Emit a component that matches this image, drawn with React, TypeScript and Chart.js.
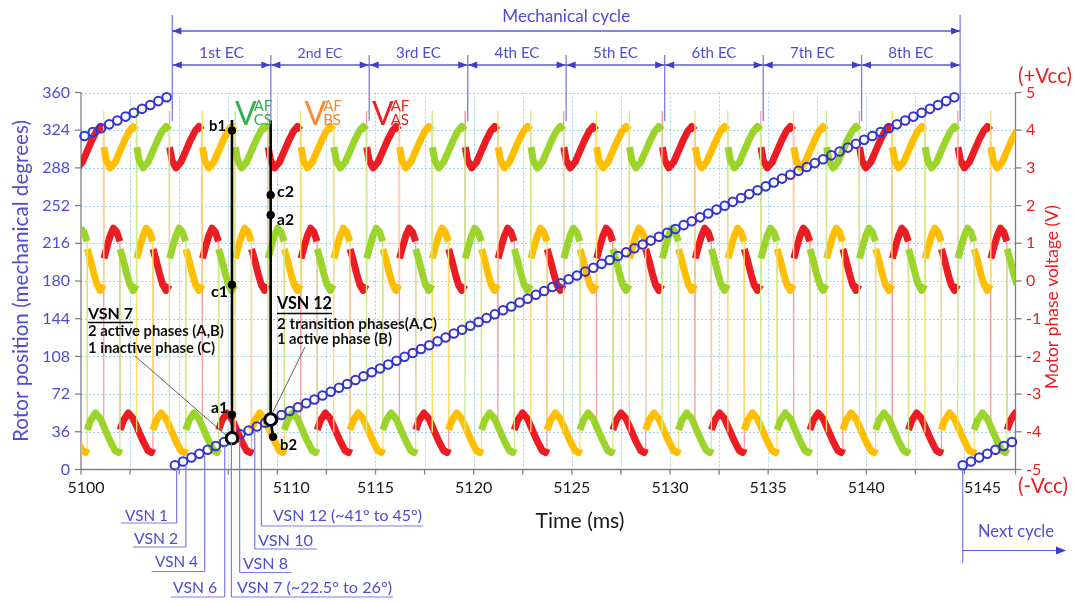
import React, { useEffect, useRef } from 'react';
import { Chart, registerables } from 'chart.js';

Chart.register(...registerables);

// ================= DATA =================
// time axis (ms)
const timeTicks = [5100, 5102.5, 5105, 5107.5, 5110, 5112.5, 5115, 5117.5, 5120, 5122.5, 5125, 5127.5, 5130, 5132.5, 5135, 5137.5, 5140, 5142.5, 5145];
const timeTickLabels = ['5100', '', '', '', '5110', '', '5115', '', '5120', '', '5125', '', '5130', '', '5135', '', '5140', '', '5145'];
const angleTicks = [0, 36, 72, 108, 144, 180, 216, 252, 288, 324, 360];
const voltTicks = [-5, -4, -3, -2, -1, 0, 1, 2, 3, 4, 5];

// rotor position samples (one circle per virtual sensor number)
const rotorTimes = [
  5100.18, 5100.60, 5101.02, 5101.44, 5101.85, 5102.27, 5102.69, 5103.11, 5103.53, 5103.94, 5104.36,
  5104.78, 5105.20, 5105.62, 5106.03, 5106.45, 5106.87, 5107.29, 5107.71, 5108.12, 5108.54,
  5108.96, 5109.38, 5109.80, 5110.21, 5110.63, 5111.05, 5111.47, 5111.89, 5112.30, 5112.72,
  5113.14, 5113.56, 5113.98, 5114.39, 5114.81, 5115.23, 5115.65, 5116.07, 5116.48, 5116.90,
  5117.32, 5117.74, 5118.16, 5118.57, 5118.99, 5119.41, 5119.83, 5120.25, 5120.66, 5121.08,
  5121.50, 5121.92, 5122.34, 5122.75, 5123.17, 5123.59, 5124.01, 5124.43, 5124.84, 5125.26,
  5125.68, 5126.10, 5126.52, 5126.93, 5127.35, 5127.77, 5128.19, 5128.61, 5129.02, 5129.44,
  5129.86, 5130.28, 5130.70, 5131.11, 5131.53, 5131.95, 5132.37, 5132.79, 5133.20, 5133.62,
  5134.04, 5134.46, 5134.88, 5135.29, 5135.71, 5136.13, 5136.55, 5136.97, 5137.38, 5137.80,
  5138.22, 5138.64, 5139.06, 5139.47, 5139.89, 5140.31, 5140.73, 5141.15, 5141.56, 5141.98,
  5142.40, 5142.82, 5143.24, 5143.65, 5144.07, 5144.49,
  5144.91, 5145.33, 5145.75, 5146.16, 5146.58, 5147.00, 5147.42,
];
const rotorAngles = [
  318.5, 322.2, 325.9, 329.6, 333.3, 337, 340.7, 344.4, 348.1, 351.8, 355.5,
  4, 7.7, 11.4, 15.1, 18.8, 22.5, 26.2, 29.9, 33.6, 37.3,
  41, 44.7, 48.4, 52.1, 55.8, 59.5, 63.2, 66.9, 70.6, 74.3,
  78, 81.7, 85.4, 89.1, 92.8, 96.5, 100.2, 103.9, 107.6, 111.3,
  115, 118.7, 122.4, 126.1, 129.8, 133.5, 137.2, 140.9, 144.6, 148.3,
  152, 155.7, 159.4, 163.1, 166.8, 170.5, 174.2, 177.9, 181.6, 185.3,
  189, 192.7, 196.4, 200.1, 203.8, 207.5, 211.2, 214.9, 218.6, 222.3,
  226, 229.7, 233.4, 237.1, 240.8, 244.5, 248.2, 251.9, 255.6, 259.3,
  263, 266.7, 270.4, 274.1, 277.8, 281.5, 285.2, 288.9, 292.6, 296.3,
  300, 303.7, 307.4, 311.1, 314.8, 318.5, 322.2, 325.9, 329.6, 333.3,
  337, 340.7, 344.4, 348.1, 351.8, 355.5,
  4, 7.7, 11.4, 15.1, 18.8, 22.5, 26.2,
];

// phase voltage: one electrical period (ms after high-side turn-on, volts)
const periodOffsets = [0.000, 0.015, 0.134, 0.335, 0.586, 0.837, 1.087, 1.338, 1.506, 1.665,
  1.673, 1.688, 1.840, 2.008, 2.175, 2.343, 2.502,
  2.510, 2.677, 2.928, 3.179, 3.430, 3.681, 3.932, 4.099, 4.175,
  4.185, 4.350, 4.518, 4.685, 4.853, 5.010];
const periodVolts = [4.5, 3.55, 3.2, 3.0, 3.15, 3.45, 3.75, 4.0, 4.1, 4.0,
  -4.0, 0.6, 0.9, 1.2, 1.4, 1.3, 1.05,
  -3.95, -3.7, -3.5, -3.65, -3.95, -4.25, -4.5, -4.55, -4.45,
  0.85, 0.55, 0.2, -0.1, -0.25, -0.1];
// commutation instants at which phase A is switched high (ms)
const phaseAHighStarts = [5094.46, 5099.48, 5104.50, 5109.52, 5114.54, 5119.56, 5124.58, 5129.60, 5134.62, 5139.64, 5144.66];
const phaseShiftsMs = [0, 1.673, 3.346]; // A, B, C

// electrical cycles inside the mechanical cycle
const ecBoundaries = [5104.65, 5109.67, 5114.68, 5119.70, 5124.71, 5129.73, 5134.75, 5139.76, 5144.78];
const ecLabels = ['1st EC', '2nd EC', '3rd EC', '4th EC', '5th EC', '6th EC', '7th EC', '8th EC'];

// selected sensor numbers (VSN 7 and VSN 12)
const selectedTimes = [5107.69, 5109.66];
const selectedAngles = [29.9, 47.6];
const markerTimes = [5107.69, 5107.69, 5107.69, 5109.66, 5109.66, 5109.78];
const markerVolts = [3.99, -0.1, -3.55, 2.28, 1.75, -4.13];
const markerNames = ['b1', 'c1', 'a1', 'c2', 'a2', 'b2'];
const cursorTopVolt = 4.27;
const vsn7CursorBottom = -4.17;
const vsn12CursorBottom = -3.69;

const vsnNames = ['VSN 1', 'VSN 2', 'VSN 4', 'VSN 6', 'VSN 7 (~22.5° to 26°)', 'VSN 8', 'VSN 10', 'VSN 12 (~41° to 45°)'];
const vsnTimes = [5104.87, 5105.34, 5106.30, 5107.32, 5107.66, 5108.08, 5108.85, 5109.19];
const nextCycleTime = 5144.91;

// ================= STYLE / LAYOUT =================
const FONT = 'Lato';
const BLUE_TXT = '#4c4cd6';
const BLUE_LINE = '#7c7ce8';
const BLUE_DARK = '#3d3dc8';
const RED_TXT = '#f01c1c';
const ROTOR_COLOR = '#3434cf';
const GRID = '#a3d2ec';
const AXIS = '#7f7f7f';
const PHASE_COLORS = ['#ec1c24', '#ffbf00', '#9bd42a'];
const PHASE_LIGHT = ['#f7a0a0', '#ffdb70', '#cdea8e'];
const X_LABEL_SHIFT: Record<string, number> = { '5100': 5, '5110': 14, '5145': 18 };

const vsnLayout = [
  { left: 125, cy: 516, w: 43, uy: 523, u0: 121 },
  { left: 134, cy: 539, w: 44, uy: 547, u0: 132.7 },
  { left: 155, cy: 562, w: 43, uy: 571.5, u0: 151.7 },
  { left: 173, cy: 588, w: 44, uy: 597, u0: 171 },
  { left: 237, cy: 588, w: 155, uy: 597, u1: 393 },
  { left: 243, cy: 564, w: 45, uy: 572.5, u1: 291.7 },
  { left: 258, cy: 541, w: 55, uy: 549, u1: 316.7 },
  { left: 273, cy: 516, w: 149, uy: 526, u1: 423 },
];
const markerLabelLayout = [
  { x: 209, y: 126 }, { x: 211, y: 292 }, { x: 211, y: 408 },
  { x: 277, y: 192 }, { x: 277, y: 220 }, { x: 280, y: 445 },
];

function buildPhase(shift: number) {
  const pts: { x: number; y: number }[] = [];
  for (const s of phaseAHighStarts) {
    for (let i = 0; i < periodOffsets.length; i++) {
      pts.push({ x: s + shift + periodOffsets[i], y: periodVolts[i] });
    }
  }
  return pts;
}

function seg(ctx: any, x0: number, y0: number, x1: number, y1: number) {
  ctx.beginPath();
  ctx.moveTo(x0, y0);
  ctx.lineTo(x1, y1);
  ctx.stroke();
}

function fitText(ctx: any, text: string, x: number, y: number, width: number, opts: any = {}) {
  const weight = opts.weight || 'normal';
  ctx.save();
  ctx.font = `${weight} 20px ${FONT}`;
  const w = ctx.measureText(text).width;
  const size = (20 * width) / w;
  ctx.font = `${weight} ${size.toFixed(2)}px ${FONT}`;
  ctx.fillStyle = opts.color || '#000';
  ctx.textAlign = opts.align || 'left';
  ctx.textBaseline = 'middle';
  ctx.translate(x, y);
  if (opts.rot) ctx.rotate(opts.rot);
  ctx.fillText(text, 0, 0);
  ctx.restore();
}

function arrowHead(ctx: any, tipX: number, tipY: number, dir: number, len = 9, half = 3.5) {
  ctx.beginPath();
  ctx.moveTo(tipX, tipY);
  ctx.lineTo(tipX - dir * len, tipY - half);
  ctx.lineTo(tipX - dir * len, tipY + half);
  ctx.closePath();
  ctx.fill();
}

function rotorAngleAt(t: number) {
  for (let i = 11; i < 106; i++) {
    if (rotorTimes[i] <= t && rotorTimes[i + 1] >= t) {
      const f = (t - rotorTimes[i]) / (rotorTimes[i + 1] - rotorTimes[i]);
      return rotorAngles[i] + f * (rotorAngles[i + 1] - rotorAngles[i]);
    }
  }
  return rotorAngles[11];
}

const overlayPlugin = {
  id: 'overlay',
  beforeDatasetsDraw(chart: any) {
    const { ctx, chartArea: ca } = chart;
    const xs = chart.scales.x;
    const ys = chart.scales.y;
    ctx.save();
    ctx.strokeStyle = GRID;
    ctx.lineWidth = 1;
    ctx.setLineDash([2, 2]);
    for (const t of timeTicks) {
      if (t === timeTicks[0]) continue;
      const px = Math.round(xs.getPixelForValue(t)) + 0.5;
      seg(ctx, px, ca.top, px, ca.bottom);
    }
    for (const a of angleTicks) {
      if (a === 0) continue;
      const py = Math.round(ys.getPixelForValue(a)) + 0.5;
      seg(ctx, ca.left, py, ca.right, py);
    }
    ctx.setLineDash([]);
    ctx.strokeStyle = AXIS;
    ctx.lineWidth = 1.3;
    seg(ctx, ca.left, ca.top, ca.left, ca.bottom);
    seg(ctx, ca.right, ca.top, ca.right, ca.bottom + 5);
    seg(ctx, ca.left, ca.bottom, ca.right, ca.bottom);
    for (const a of angleTicks) {
      const py = ys.getPixelForValue(a);
      seg(ctx, ca.left - 6, py, ca.left, py);
      seg(ctx, ca.right, py, ca.right + 6, py);
    }
    for (const t of timeTicks) {
      const px = xs.getPixelForValue(t);
      seg(ctx, px, ca.bottom, px, ca.bottom + 5);
    }
    ctx.restore();
  },
  afterDatasetsDraw(chart: any) {
    const { ctx, chartArea: ca } = chart;
    const xs = chart.scales.x;
    const ys = chart.scales.y;
    ctx.save();

    // axis titles and extras
    fitText(ctx, 'Rotor position (mechanical degrees)', 21, 281, 322, { color: BLUE_TXT, align: 'center', rot: -Math.PI / 2 });
    fitText(ctx, 'Motor phase voltage (V)', 1052, 297, 184, { color: RED_TXT, align: 'center', rot: -Math.PI / 2 });
    fitText(ctx, '(+Vcc)', 1045, 76, 54, { color: RED_TXT, align: 'center' });
    fitText(ctx, '(-Vcc)', 1043, 486, 50, { color: RED_TXT, align: 'center' });

    // x tick labels
    ctx.fillStyle = '#1a1a1a';
    ctx.font = `16px ${FONT}`;
    ctx.textAlign = 'center';
    ctx.textBaseline = 'middle';
    timeTicks.forEach((t, i) => {
      const lab = timeTickLabels[i];
      if (!lab) return;
      ctx.fillText(lab, xs.getPixelForValue(t) + (X_LABEL_SHIFT[lab] || 0), 488);
    });
    fitText(ctx, 'Time (ms)', 580, 521, 89, { color: '#1a1a1a', align: 'center' });

    // mechanical / electrical cycle annotation
    const bx = ecBoundaries.map((t) => xs.getPixelForValue(t));
    ctx.strokeStyle = BLUE_LINE;
    ctx.lineWidth = 1.3;
    bx.forEach((px, i) => {
      const top = i === 0 || i === bx.length - 1 ? 15 : 55;
      seg(ctx, px, top, px, 121);
    });
    ctx.strokeStyle = '#5a5ad8';
    ctx.fillStyle = BLUE_DARK;
    seg(ctx, bx[0], 31, bx[bx.length - 1], 31);
    arrowHead(ctx, bx[0], 31, -1);
    arrowHead(ctx, bx[bx.length - 1], 31, 1);
    fitText(ctx, 'Mechanical cycle', (bx[0] + bx[bx.length - 1]) / 2, 16, 128, { color: BLUE_TXT, align: 'center' });
    for (let i = 0; i < ecLabels.length; i++) {
      ctx.strokeStyle = '#5a5ad8';
      ctx.fillStyle = BLUE_DARK;
      seg(ctx, bx[i], 65, bx[i + 1], 65);
      arrowHead(ctx, bx[i] + 0.5, 65, -1);
      arrowHead(ctx, bx[i + 1] - 0.5, 65, 1);
      fitText(ctx, ecLabels[i], (bx[i] + bx[i + 1]) / 2, 53, 45, { color: BLUE_TXT, align: 'center' });
    }

    // phase labels V^AF_xS
    const pl = [
      { x: 235, color: '#2db34a', sub: 'CS' },
      { x: 304.5, color: '#fb8a2e', sub: 'BS' },
      { x: 372, color: '#ee2020', sub: 'AS' },
    ];
    ctx.textAlign = 'left';
    ctx.textBaseline = 'alphabetic';
    for (const p of pl) {
      ctx.fillStyle = p.color;
      ctx.font = `32px ${FONT}`;
      ctx.fillText('V', p.x, 124.5);
      const vw = ctx.measureText('V').width;
      ctx.font = `15px ${FONT}`;
      ctx.fillText('AF', p.x + vw - 3, 110.5);
      ctx.fillText(p.sub, p.x + vw - 3, 124.5);
    }

    // marker labels
    markerNames.forEach((n, i) => {
      fitText(ctx, n, markerLabelLayout[i].x, markerLabelLayout[i].y, 17, { weight: 'bold', color: '#000' });
    });

    // VSN 7 / VSN 12 notes
    ctx.strokeStyle = '#000';
    ctx.lineWidth = 1.4;
    fitText(ctx, 'VSN 7', 88, 313.5, 45, { weight: 'bold' });
    seg(ctx, 88, 322.5, 133, 322.5);
    fitText(ctx, '2 active phases (A,B)', 88, 331, 136, { weight: 'bold', color: '#111' });
    fitText(ctx, '1 inactive phase (C)', 88, 348, 127, { weight: 'bold', color: '#111' });
    fitText(ctx, 'VSN 12', 277, 304, 55, { weight: 'bold' });
    seg(ctx, 277, 313.5, 332, 313.5);
    fitText(ctx, '2 transition phases(A,C)', 277, 324, 160, { weight: 'bold', color: '#111' });
    fitText(ctx, '1 active phase (B)', 277, 339.5, 115, { weight: 'bold', color: '#111' });
    ctx.strokeStyle = '#505050';
    ctx.lineWidth = 0.9;
    seg(ctx, 135, 356, xs.getPixelForValue(selectedTimes[0]) - 6, ys.getPixelForValue(selectedAngles[0]) - 3);
    seg(ctx, 305, 347, xs.getPixelForValue(selectedTimes[1]) + 2, ys.getPixelForValue(selectedAngles[1]) - 7);

    // VSN labels below the axis
    ctx.lineWidth = 1.2;
    vsnNames.forEach((name, i) => {
      const L = vsnLayout[i];
      const px = xs.getPixelForValue(vsnTimes[i]);
      const top = ys.getPixelForValue(rotorAngleAt(vsnTimes[i])) + 4;
      ctx.strokeStyle = BLUE_LINE;
      seg(ctx, px, L.uy, px, Math.min(top, ca.bottom + 2));
      if (L.u0 !== undefined) seg(ctx, L.u0, L.uy, px, L.uy);
      else seg(ctx, px, L.uy, L.u1 as number, L.uy);
      fitText(ctx, name, L.left, L.cy, L.w, { color: BLUE_TXT });
    });

    // next cycle
    const nx = xs.getPixelForValue(nextCycleTime);
    ctx.strokeStyle = BLUE_LINE;
    seg(ctx, nx, ca.bottom + 1, nx, 563);
    ctx.strokeStyle = '#5a5ad8';
    seg(ctx, nx, 550.5, 1064, 550.5);
    ctx.fillStyle = BLUE_DARK;
    arrowHead(ctx, 1066, 550.5, 1, 10, 4);
    fitText(ctx, 'Next cycle', 1016, 532, 76, { color: BLUE_TXT, align: 'center' });

    ctx.restore();
  },
};

export default function App() {
  const ref = useRef<HTMLCanvasElement | null>(null);
  useEffect(() => {
    if (!ref.current) return;
    Chart.defaults.font.family = FONT;
    const phaseDatasets = phaseShiftsMs.map((sh, i) => ({
      type: 'line' as const,
      label: ['VAS', 'VBS', 'VCS'][i],
      data: buildPhase(sh),
      yAxisID: 'y2',
      borderColor: PHASE_COLORS[i],
      borderWidth: 7,
      pointRadius: 0,
      tension: 0,
      borderJoinStyle: 'round' as const,
      order: 6 - i,
      segment: {
        borderWidth: (c: any) => (Math.abs(c.p1.parsed.x - c.p0.parsed.x) < 0.02 ? 1.3 : 7),
        borderColor: (c: any) => (Math.abs(c.p1.parsed.x - c.p0.parsed.x) < 0.02 ? PHASE_LIGHT[i] : PHASE_COLORS[i]),
      },
    }));
    const chart = new Chart(ref.current, {
      type: 'line',
      data: {
        datasets: [
          {
            label: 'selected',
            data: selectedTimes.map((t, i) => ({ x: t, y: selectedAngles[i] })),
            yAxisID: 'y',
            showLine: false,
            pointRadius: 5.8,
            pointBorderWidth: 3,
            pointBorderColor: '#000',
            pointBackgroundColor: '#fff',
            order: 0,
          },
          {
            label: 'markers',
            data: markerTimes.map((t, i) => ({ x: t, y: markerVolts[i] })),
            yAxisID: 'y2',
            showLine: false,
            pointRadius: 3.8,
            pointBorderWidth: 1,
            pointBorderColor: '#000',
            pointBackgroundColor: '#000',
            order: 1,
          },
          {
            label: 'cursor7',
            data: [
              { x: selectedTimes[0], y: cursorTopVolt },
              { x: selectedTimes[0], y: vsn7CursorBottom },
            ],
            yAxisID: 'y2',
            borderColor: '#000',
            borderWidth: 2.6,
            pointRadius: 0,
            order: 2,
          },
          {
            label: 'cursor12',
            data: [
              { x: selectedTimes[1], y: cursorTopVolt },
              { x: selectedTimes[1], y: vsn12CursorBottom },
              { x: markerTimes[5], y: markerVolts[5] },
            ],
            yAxisID: 'y2',
            borderColor: '#000',
            borderWidth: 2.6,
            pointRadius: 0,
            order: 2,
          },
          {
            label: 'rotor',
            data: rotorTimes.map((t, i) => ({ x: t, y: rotorAngles[i] })),
            yAxisID: 'y',
            showLine: false,
            pointRadius: 4.3,
            pointBorderWidth: 2,
            pointBorderColor: ROTOR_COLOR,
            pointBackgroundColor: 'rgba(0,0,0,0)',
            clip: 10,
            order: 3,
          },
          ...phaseDatasets,
        ] as any,
      },
      options: {
        responsive: false,
        animation: false,
        events: [],
        layout: { padding: { top: 92.5, left: 0, right: 0, bottom: 0 } },
        plugins: { legend: { display: false }, tooltip: { enabled: false }, title: { display: false } },
        scales: {
          x: {
            type: 'linear',
            min: 5100,
            max: 5147.6,
            grid: { display: false, drawTicks: false },
            border: { display: false },
            ticks: { display: false },
            afterFit: (s: any) => {
              s.height = 132.5;
            },
          },
          y: {
            type: 'linear',
            position: 'left',
            min: 0,
            max: 360,
            grid: { display: false, drawTicks: false },
            border: { display: false },
            ticks: { stepSize: 36, color: BLUE_TXT, padding: 11, font: { size: 16, family: FONT } },
            afterFit: (s: any) => {
              s.width = 81;
            },
          },
          y2: {
            type: 'linear',
            position: 'right',
            min: -5,
            max: 5,
            grid: { display: false, drawTicks: false },
            border: { display: false },
            ticks: { stepSize: 1, color: RED_TXT, padding: 10.5, font: { size: 16, family: FONT } },
            afterFit: (s: any) => {
              s.width = 58.5;
            },
          },
        },
      } as any,
      plugins: [overlayPlugin],
    });
    return () => chart.destroy();
  }, []);
  return (
    <div style={{ position: 'fixed', left: 0, top: 0, width: 1074, height: 602, background: '#fff' }}>
      <canvas ref={ref} width={1074} height={602} style={{ display: 'block' }} />
    </div>
  );
}
